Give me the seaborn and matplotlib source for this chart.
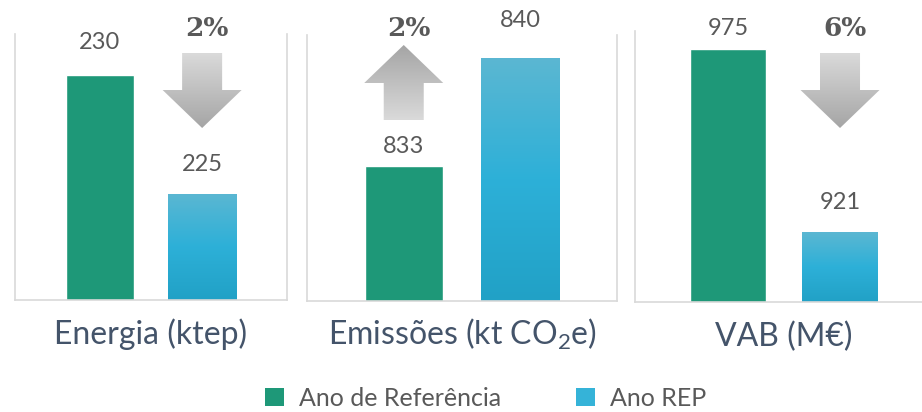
import numpy as np
import pandas as pd
import matplotlib
matplotlib.use("Agg")
import matplotlib.pyplot as plt
from matplotlib.colors import LinearSegmentedColormap
from matplotlib.patches import Polygon, Patch
from matplotlib.transforms import IdentityTransform
import seaborn as sns

# dados
categorias = ["Energia (ktep)", "Emissões (kt CO$_2$e)", "VAB (M€)"]
series = ["Ano de Referência", "Ano REP"]
ano_referencia = [230, 833, 975]
ano_rep = [225, 840, 921]
variacao = ["2%", "2%", "6%"]

# escalas (eixo truncado, como no original)
y_limites = [(220.55, 231.7), (824.25, 841.5), (900.35, 980.3)]

# estilo
VERDE = "#1E9878"
AZUL = "#2DB0D8"
CINZA_TXT = "#595959"
AZUL_TXT = "#44546A"
BORDA = "#D9D9D9"
W, H = 922, 412
caixas = [(15, 287, 34, 300), (307, 617, 35, 301), (635, 933, 31, 302)]  # px: esq, dir, topo, base
pad_valores = [(22, 19), (9, 27), (10, 19)]  # px acima da barra
seta_topo = [53, 45, 53]  # px a partir do topo da figura

sns.set_style("white")
plt.rcParams["font.family"] = ["Lato", "DejaVu Sans"]
plt.rcParams["mathtext.fontset"] = "custom"
plt.rcParams["mathtext.rm"] = "Lato"
plt.rcParams["mathtext.it"] = "Lato:italic"
plt.rcParams["mathtext.bf"] = "Lato:bold"

df = pd.DataFrame({
    "categoria": np.repeat(categorias, 2),
    "serie": series * len(categorias),
    "valor": np.ravel(np.column_stack([ano_referencia, ano_rep])),
})

grad_azul = LinearSegmentedColormap.from_list("azul", ["#5BB7D2", "#2DB0D8", "#21A1C6"])
grad_seta = LinearSegmentedColormap.from_list("seta", ["#DADADA", "#A5A5A5"])

fig = plt.figure(figsize=(W / 100, H / 100), dpi=100)

for i, cat in enumerate(categorias):
    esq, dir_, topo, base = caixas[i]
    ax = fig.add_axes([esq / W, (H - base) / H, (dir_ - esq) / W, (base - topo) / H])
    sub = df[df["categoria"] == cat]
    sns.barplot(data=sub, x="serie", y="valor", hue="serie", order=series,
                hue_order=series, palette=[VERDE, AZUL], width=0.67,
                saturation=1, legend=False, ax=ax)
    ylim = y_limites[i]
    ax.set_xlim(-0.83, 1.83)
    ax.set_ylim(*ylim)

    # gradiente na barra azul
    barra = ax.patches[1]
    barra.set_facecolor("none")
    x0 = barra.get_x()
    grad = np.linspace(0, 1, 256).reshape(-1, 1)
    im = ax.imshow(grad, cmap=grad_azul, aspect="auto",
                   extent=[x0, x0 + barra.get_width(), ylim[0], barra.get_height()],
                   origin="upper", zorder=2)
    im.set_clip_path(barra)

    # rótulos de valor
    for j, barra_j in enumerate(ax.patches[:2]):
        xc = barra_j.get_x() + barra_j.get_width() / 2
        ax.annotate(f"{barra_j.get_height():.0f}", (xc, barra_j.get_height()),
                    xytext=(0, pad_valores[i][j] * 0.72), textcoords="offset points",
                    ha="center", va="bottom", fontsize=17, color=CINZA_TXT,
                    annotation_clip=False)

    ax.set_xlim(-0.83, 1.83)
    ax.set_ylim(*ylim)

    # seta de variação sobre a barra menor
    vals = [ano_referencia[i], ano_rep[i]]
    k = int(np.argmin(vals))
    desce = vals[1] < vals[0]
    xc = ax.transData.transform((k, ylim[0]))[0]
    T = H - seta_topo[i]
    if desce:
        pts = [(xc - 20, T), (xc + 20, T), (xc + 20, T - 37), (xc + 39.5, T - 37),
               (xc, T - 75), (xc - 39.5, T - 37), (xc - 20, T - 37)]
        g = np.linspace(0, 1, 256).reshape(-1, 1)
    else:
        pts = [(xc, T), (xc + 39.5, T - 38), (xc + 20, T - 38), (xc + 20, T - 75),
               (xc - 20, T - 75), (xc - 20, T - 38), (xc - 39.5, T - 38)]
        g = np.linspace(1, 0, 256).reshape(-1, 1)
    seta = Polygon(pts, closed=True, transform=IdentityTransform(),
                   facecolor="none", edgecolor="none")
    ax.add_patch(seta)
    im2 = ax.imshow(g, cmap=grad_seta, aspect="auto", origin="upper",
                    extent=[xc - 40, xc + 40, T - 75, T],
                    transform=IdentityTransform(), zorder=3)
    im2.set_clip_path(seta)
    im2.set_clip_box(None)
    fig.text((xc + 5) / W, 1 - 29 / H, variacao[i], ha="center", va="center",
             fontsize=19, fontweight="bold", family="DejaVu Serif", color=CINZA_TXT)

    ax.set_xlim(-0.83, 1.83)
    ax.set_ylim(*ylim)

    # eixos
    ax.set_xticks([])
    ax.set_yticks([])
    ax.set_xlabel("")
    ax.set_ylabel("")
    for lado in ["left", "right", "bottom"]:
        ax.spines[lado].set_color(BORDA)
        ax.spines[lado].set_linewidth(1.2)
    ax.spines["top"].set_visible(False)

    ax.annotate(cat, (0.5, 0), xycoords="axes fraction", xytext=(0, -44 * 0.72),
                textcoords="offset points", ha="center", va="baseline",
                fontsize=23, color=AZUL_TXT)

alcas = [Patch(facecolor=VERDE, edgecolor="none"), Patch(facecolor="#35B3D8", edgecolor="none")]
fig.legend(alcas, series, loc="lower center", bbox_to_anchor=(0.5266, 0.0), ncol=2,
           frameon=False, fontsize=18, handlelength=0.75, handleheight=0.75,
           handletextpad=0.6, columnspacing=3.0, labelcolor=CINZA_TXT,
           borderpad=0.1, borderaxespad=0)

fig.savefig("out.png", dpi=100)
